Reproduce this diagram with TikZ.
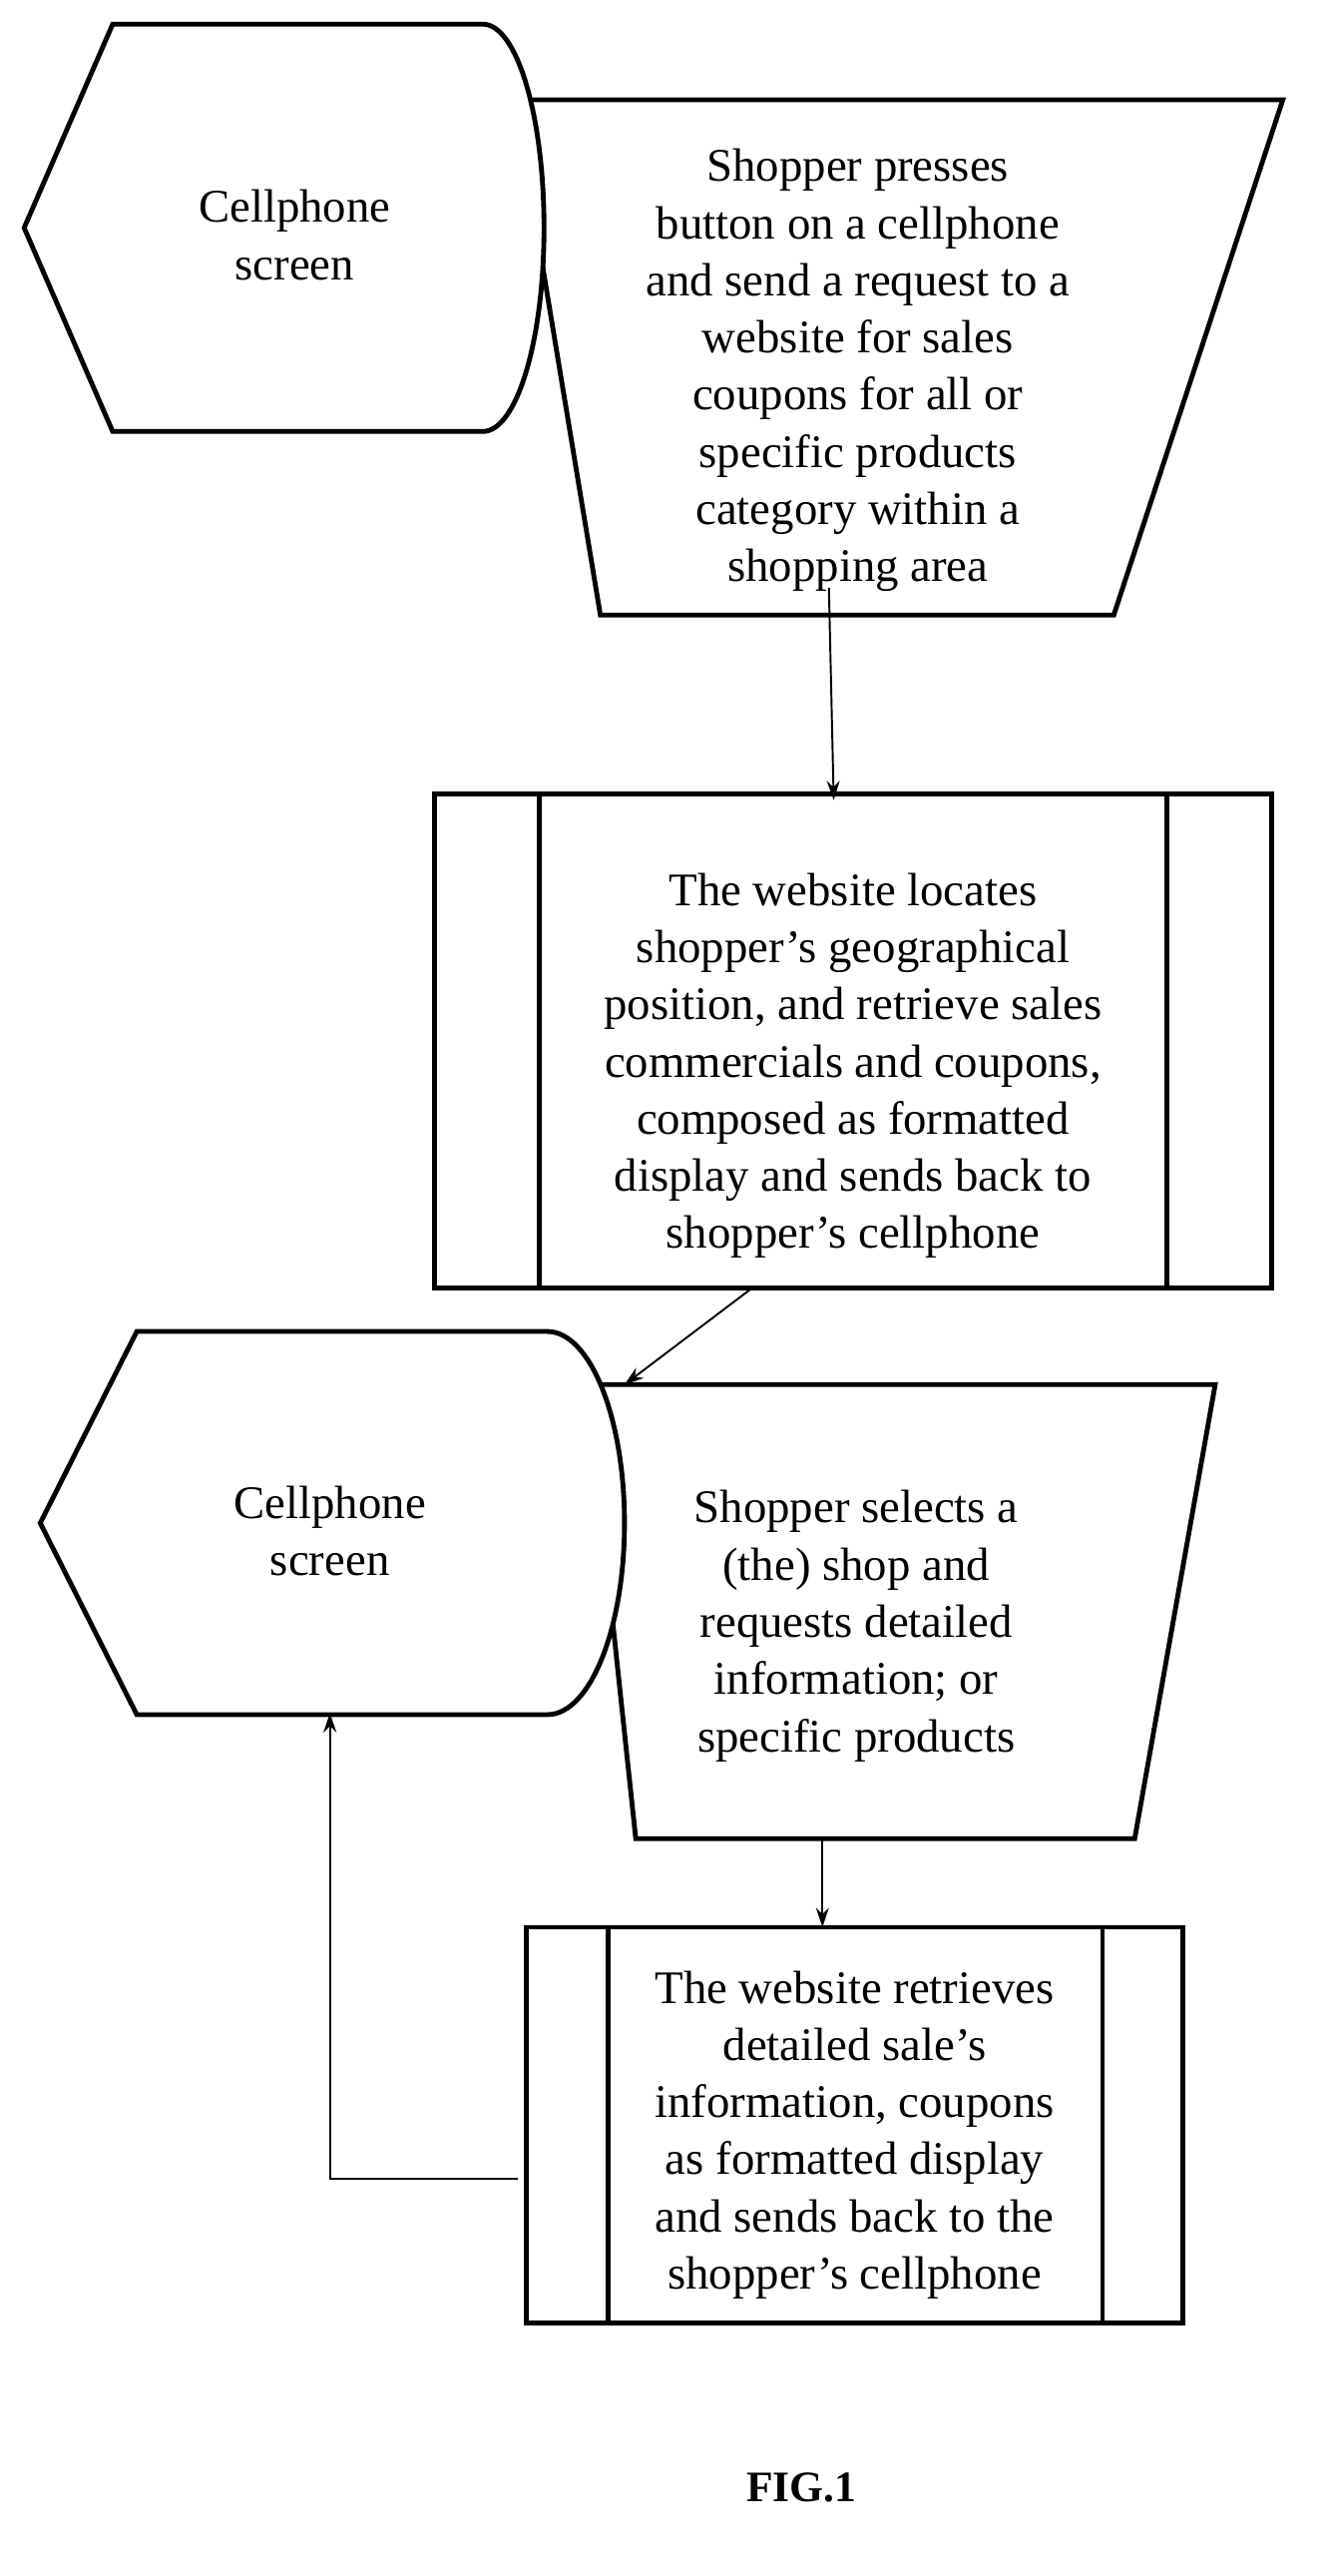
\documentclass[tikz,border=0pt]{standalone}
\usepackage{fontspec}
\setmainfont{Liberation Serif}
\usetikzlibrary{arrows.meta}
\begin{document}
\begin{tikzpicture}[x=1pt,y=-1pt,
  shp/.style={draw=black,line width=3pt,fill=white,line join=miter},
  txt/.style={font=\fontsize{29}{35.5}\selectfont,align=center},
  arr/.style={-{Stealth[length=12pt,width=8pt]},line width=1.2pt}]
\useasboundingbox (0,0) rectangle (830,1600);
% first group
\draw[shp] (320,62) -- (797,62) -- (692,382) -- (373,382) -- cycle;
\draw[shp] (300,15) -- (70,15) -- (15,141.5) -- (70,268) -- (300,268) arc[start angle=90,end angle=-90,x radius=38,y radius=126.5];
\node[txt] (c1) at (183,146) {Cellphone\\screen};
\node[txt] (t1) at (533,230) {Shopper presses\\button on a cellphone\\and send a request to a\\website for sales\\coupons for all or\\specific products\\category within a\\shopping area};
% box 2
\node[shp,minimum width=520pt,minimum height=307pt] (b2) at (530,646.5) {};
\draw[line width=3pt] (335,493) -- (335,800) (725,493) -- (725,800);
\node[txt] (t2) at (530,662) {The website locates\\shopper’s geographical\\position, and retrieve sales\\commercials and coupons,\\composed as formatted\\display and sends back to\\shopper’s cellphone};
% second group
\draw[shp] (365,860) -- (755,860) -- (705,1142) -- (395,1142) -- cycle;
\draw[shp] (340,827) -- (85,827) -- (25,946) -- (85,1065) -- (340,1065) arc[start angle=90,end angle=-90,x radius=48,y radius=119];
\node[txt] (c2) at (205,951) {Cellphone\\screen};
\node[txt] (t3) at (532,1010) {Shopper selects a\\(the) shop and\\requests detailed\\information; or\\specific products};
% box 4
\node[shp,minimum width=408pt,minimum height=246pt] (b4) at (531,1320) {};
\draw[line width=3pt] (378,1197) -- (378,1443) (685,1197) -- (685,1443);
\node[txt] (t4) at (531,1326) {The website retrieves\\detailed sale’s\\information, coupons\\as formatted display\\and sends back to the\\shopper’s cellphone};
% arrows
\coordinate (a1s) at (515,365);
\coordinate (a1e) at (518,497);
\draw[arr] (a1s) -- (a1e);
\coordinate (a2s) at (466,801);
\coordinate (a2e) at (388,860);
\draw[arr] (a2s) -- (a2e);
\coordinate (a3s) at (511,1142);
\coordinate (a3e) at (511,1197);
\draw[arr] (a3s) -- (a3e);
\coordinate (f1) at (322,1353);
\coordinate (f2) at (205,1353);
\coordinate (f3) at (205,1064);
\draw[arr] (f1) -- (f2) -- (f3);
\node[font=\bfseries\fontsize{27}{30}\selectfont] (fig) at (498,1545) {FIG.1};
\end{tikzpicture}
\end{document}
